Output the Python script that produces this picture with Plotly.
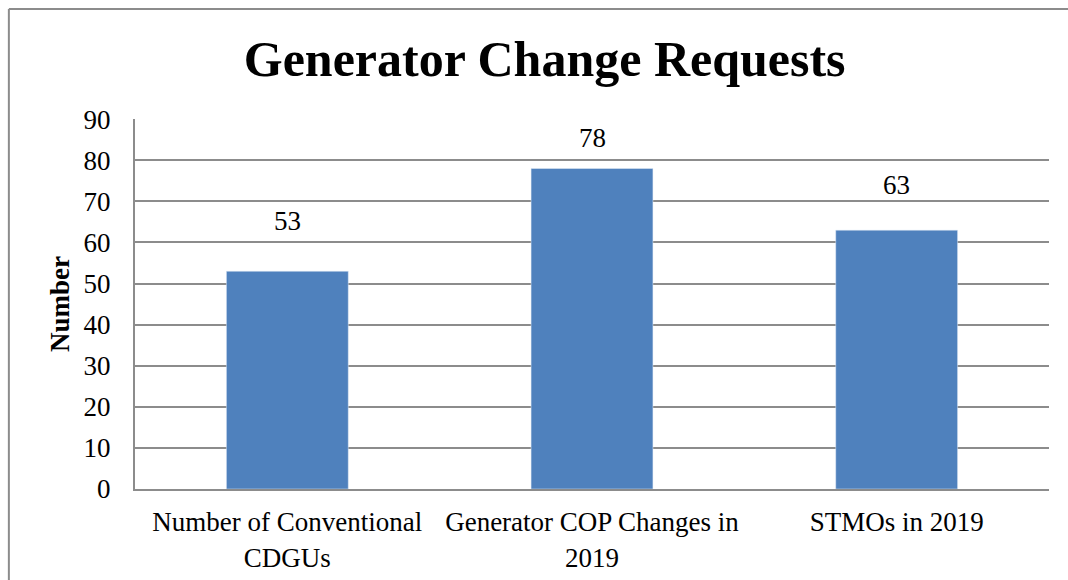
import plotly.graph_objects as go

categories = ["Number of Conventional<br>CDGUs", "Generator COP Changes in<br>2019", "STMOs in 2019"]
values = [53, 78, 63]
y_ticks = [0, 10, 20, 30, 40, 50, 60, 70, 80, 90]

serif = "Liberation Serif"
grey = "#8c8c8c"
label_lift = [50, 31, 45]  # px above bar top, as placed in the original

fig = go.Figure()
fig.add_trace(go.Bar(x=categories, y=values, marker_color="#4f81bd", width=0.4))

for c, v, dy in zip(categories, values, label_lift):
    fig.add_annotation(x=c, y=v, text=str(v), showarrow=False, yshift=dy,
                       font=dict(family=serif, size=27, color="black"))

fig.add_annotation(text="<b>Number</b>", xref="paper", yref="paper", x=-0.082, y=0.5,
                   xanchor="center", yanchor="middle", textangle=-90, showarrow=False,
                   font=dict(family=serif, size=27, color="black"))

# chart border: only left and top edges are visible in the original
fig.add_shape(type="line", xref="paper", yref="paper", x0=-0.138, x1=-0.138, y0=-0.3, y1=1.297,
              line=dict(color=grey, width=2))
fig.add_shape(type="line", xref="paper", yref="paper", x0=-0.138, x1=1.2, y0=1.297, y1=1.297,
              line=dict(color=grey, width=2))

fig.update_yaxes(range=[0, 90.05], tickvals=y_ticks, showgrid=True, gridcolor=grey, gridwidth=2,
                 showline=True, linecolor=grey, linewidth=2, zeroline=False, automargin=False,
                 ticklabelstandoff=17, tickfont=dict(family=serif, size=27, color="black"))
fig.update_xaxes(showgrid=False, showline=True, linecolor=grey, linewidth=2, automargin=False,
                 ticklabelstandoff=8, tickfont=dict(family=serif, size=27, color="black"))

fig.update_layout(
    width=1068, height=580,
    margin=dict(l=135, r=19, t=119, b=91),
    plot_bgcolor="white", paper_bgcolor="white",
    showlegend=False,
    title=dict(text="<b>Generator Change Requests</b>", x=0.51, xanchor="center",
               y=0.9, yanchor="middle", font=dict(family=serif, size=50, color="black")),
)

# drop the default page margin so the figure fills the window exactly
fig.write_html("out.html", config={"displayModeBar": False},
               post_script="document.body.style.margin='0';")
